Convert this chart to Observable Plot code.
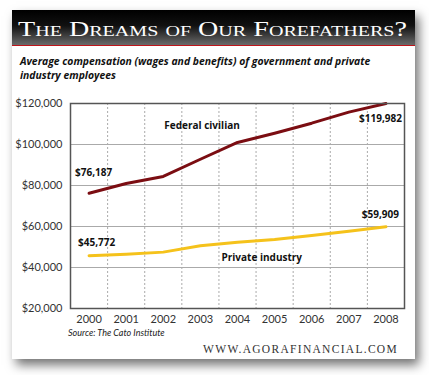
<!DOCTYPE html>
<html>
<head>
<meta charset="utf-8">
<script src="https://cdn.jsdelivr.net/npm/d3@7"></script>
<script src="https://cdn.jsdelivr.net/npm/@observablehq/plot@0.6"></script>
<style>
  html, body { margin: 0; padding: 0; width: 429px; height: 375px; background: #fff; overflow: hidden; }
  #card { position: absolute; left: 12px; top: 10px; width: 403px; height: 349px; background: #fff;
          box-shadow: 4px 6px 10px rgba(0,0,0,0.55); }
  #titlebar { position: absolute; left: 0; top: 0; width: 403px; height: 35px;
              background: linear-gradient(#000 0%, #111 45%, #6a6a6a 100%);
              border-bottom: 1.5px solid #c0141a; }
  #titlebar svg { position: absolute; left: 0; top: 0; }
  #subtitle { position: absolute; left: 8px; top: 44px; font-family: "Open Sans", sans-serif; font-weight: bold;
              font-style: italic; font-size: 10.4px; line-height: 14px; color: #111; white-space: nowrap; }
  #chart { position: absolute; left: 0; top: 80px; }
  #source { position: absolute; left: 56px; top: 317px; font-family: Lato, sans-serif; font-style: italic;
            font-size: 9px; color: #222; }
  #site { position: absolute; right: 17px; top: 333px; font-family: "Liberation Serif", serif; font-size: 11.5px;
          letter-spacing: 1.3px; color: #333; }
</style>
</head>
<body>
<div id="card">
  <div id="titlebar">
    <svg width="403" height="35">
      <text x="6" y="26" fill="#fff" font-family="Liberation Serif, serif" font-size="21" style="font-variant: small-caps"
            textLength="389" lengthAdjust="spacingAndGlyphs">The Dreams of Our Forefathers?</text>
    </svg>
  </div>
  <div id="subtitle">Average compensation (wages and benefits) of government and private<br>industry employees</div>
  <div id="chart"></div>
  <div id="source">Source: The Cato Institute</div>
  <div id="site">WWW.AGORAFINANCIAL.COM</div>
</div>
<script>
const years = [2000, 2001, 2002, 2003, 2004, 2005, 2006, 2007, 2008];
const federal = [76187, 81000, 84400, 92800, 101000, 105500, 110400, 115800, 119982];
const privateIndustry = [45772, 46500, 47500, 50600, 52300, 53700, 55600, 57700, 59909];
const yTicks = [20000, 40000, 60000, 80000, 100000, 120000];
const seriesNames = ["Federal civilian", "Private industry"];

const fedRows = years.map((yr, i) => ({year: yr, value: federal[i]}));
const privRows = years.map((yr, i) => ({year: yr, value: privateIndustry[i]}));
const gridX = years.slice(0, -1).map(y => y + 0.5);
const fmt = d => "$" + d3.format(",")(d);
const last = years.length - 1;

const endLabels = [
  {year: years[0], value: federal[0], text: fmt(federal[0]), dx: -14, dy: -21, anchor: "start"},
  {year: years[0], value: privateIndustry[0], text: fmt(privateIndustry[0]), dx: -11, dy: -13, anchor: "start"},
  {year: years[last], value: federal[last], text: fmt(federal[last]), dx: 16, dy: 15, anchor: "end"},
  {year: years[last], value: privateIndustry[last], text: fmt(privateIndustry[last]), dx: 13, dy: -12, anchor: "end"},
  {year: years[2], value: federal[2], text: seriesNames[0], dx: 1, dy: -51, anchor: "start"},
  {year: years[4], value: privateIndustry[4], text: seriesNames[1], dx: -16, dy: 16, anchor: "start"}
];

const plot = Plot.plot({
  width: 403,
  height: 240,
  marginLeft: 58,
  marginRight: 11,
  marginTop: 13,
  marginBottom: 22,
  style: {fontFamily: "Lato, sans-serif", fontSize: "11px", color: "#333", background: "transparent", overflow: "visible"},
  x: {domain: [1999.5, 2008.5], ticks: years, tickFormat: d => String(d), tickSize: 0, tickPadding: 7, label: null},
  y: {domain: [20000, 120000], ticks: yTicks, tickFormat: fmt, tickSize: 0, tickPadding: 8, label: null},
  marks: [
    Plot.ruleY(yTicks.slice(1, -1), {stroke: "#aaa", strokeWidth: 1}),
    Plot.ruleX(gridX, {stroke: "#aaa", strokeWidth: 1, strokeDasharray: "2,2"}),
    Plot.line(fedRows, {x: "year", y: "value", stroke: "#7b0d12", strokeWidth: 3}),
    Plot.line(privRows, {x: "year", y: "value", stroke: "#f5c21b", strokeWidth: 3}),
    Plot.frame({stroke: "#555", strokeWidth: 1.5}),
    ...endLabels.map(l => Plot.text([l], {x: "year", y: "value", text: "text", dx: l.dx, dy: l.dy,
      textAnchor: l.anchor, fontFamily: "Open Sans, sans-serif", fontWeight: "bold", fontSize: 10, fill: "#111"}))
  ]
});
document.getElementById("chart").appendChild(plot);
</script>
</body>
</html>
